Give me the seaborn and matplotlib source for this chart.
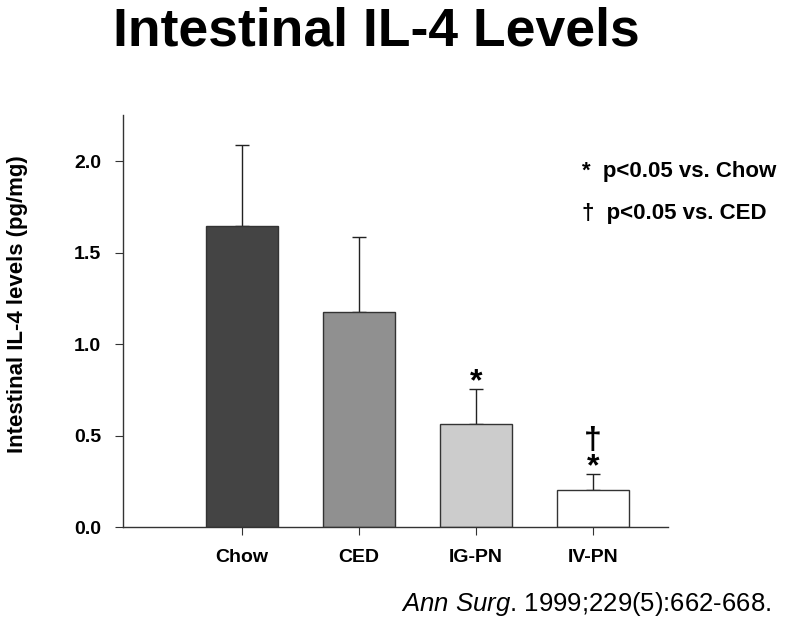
import matplotlib
matplotlib.use("Agg")
import matplotlib.pyplot as plt
import seaborn as sns
import pandas as pd

groups = ["Chow", "CED", "IG-PN", "IV-PN"]
means = [1.645, 1.175, 0.563, 0.200]
sems = [0.442, 0.410, 0.191, 0.090]
colors = ["#444444", "#909090", "#cccccc", "#ffffff"]
marks = ["", "", "*", "\u2020\n*"]
yticks = [0.0, 0.5, 1.0, 1.5, 2.0]

sns.set_style("ticks")
plt.rcParams["font.family"] = ["Liberation Sans", "DejaVu Sans"]
plt.rcParams.update({
    "text.color": "black", "axes.labelcolor": "black",
    "xtick.color": "black", "ytick.color": "black",
    "mathtext.fontset": "custom",
    "mathtext.rm": "Liberation Sans",
    "mathtext.it": "Liberation Sans:italic",
})

df = pd.DataFrame({"group": groups, "mean": means})
fig = plt.figure(figsize=(8, 6.23), dpi=100)
ax = fig.add_axes([0.154, 0.154, 0.681, 0.661])

sns.barplot(data=df, x="group", y="mean", hue="group", palette=colors,
            legend=False, width=0.615, edgecolor="#333333", linewidth=1.0,
            ax=ax, zorder=2)
ax.errorbar(range(len(groups)), means, yerr=[[0] * len(groups), sems],
            fmt="none", ecolor="#222222", elinewidth=1.0, capsize=5,
            capthick=1.0, zorder=1)

for i, (m, s, t) in enumerate(zip(means, sems, marks)):
    if t:
        ax.text(i, m + s - 0.045, t, ha="center", va="bottom", fontsize=23,
                fontweight="bold", linespacing=0.85)

ax.set_xlim(-1.01, 3.64)
ax.set_ylim(0, 2.25)
ax.set_yticks(yticks)
ax.set_yticklabels([f"{v:.1f}" for v in yticks], fontsize=14, fontweight="bold")
ax.set_xticks(range(len(groups)))
ax.set_xticklabels(groups, fontsize=14, fontweight="bold")
ax.tick_params(axis="x", length=6, pad=10, color="#333333")
ax.tick_params(axis="y", length=6, pad=10, color="#333333")
ax.set_xlabel("")
ax.set_ylabel("Intestinal IL-4 levels (pg/mg)", fontsize=16, fontweight="bold")
ax.yaxis.set_label_coords(-0.174, 0.541)
for s in ["top", "right"]:
    ax.spines[s].set_visible(False)
for s in ["left", "bottom"]:
    ax.spines[s].set_color("#333333")
    ax.spines[s].set_linewidth(1.0)

fig.text(0.471, 0.949, "Intestinal IL-4 Levels", ha="center", va="center",
         fontsize=38.5, fontweight="bold")
fig.text(0.728, 0.724, "*  p<0.05 vs. Chow", ha="left", va="center",
         fontsize=16, fontweight="bold")
fig.text(0.728, 0.658, "\u2020  p<0.05 vs. CED", ha="left", va="center",
         fontsize=16, fontweight="bold")
fig.text(0.964, 0.031, r"$\it{Ann\ Surg}$. 1999;229(5):662-668.", ha="right",
         va="center", fontsize=18.5)

fig.savefig("out.png", dpi=100)
